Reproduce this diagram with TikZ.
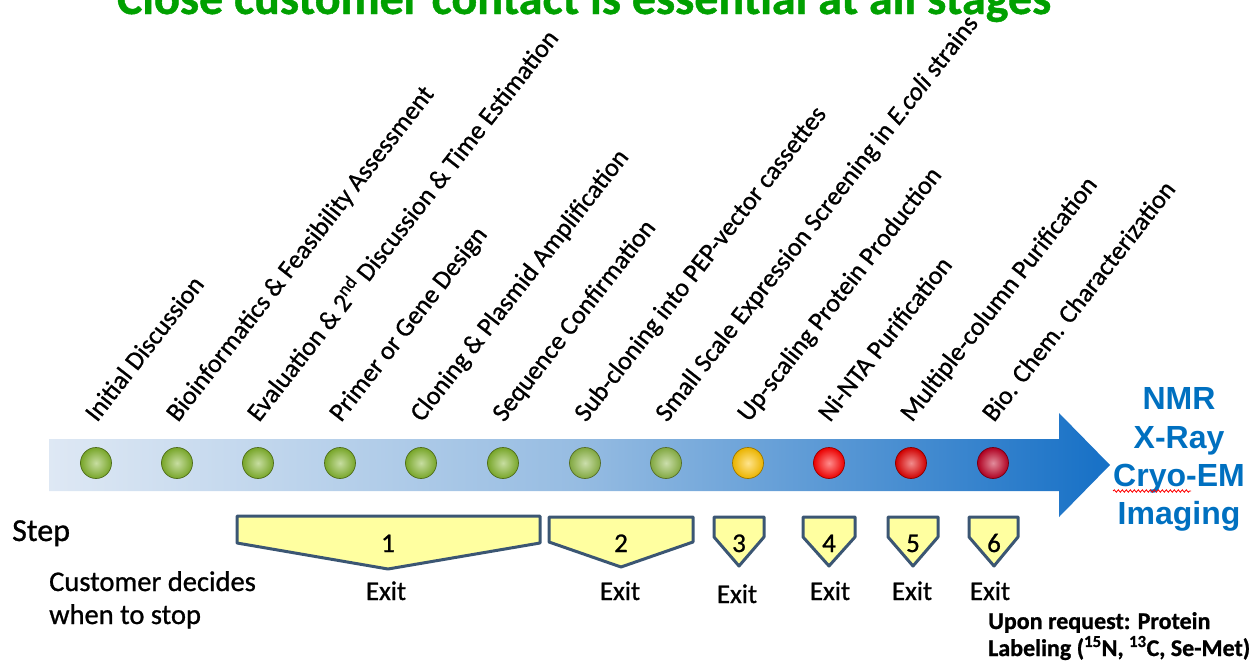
\documentclass[tikz,border=0pt]{standalone}
\usepackage{fontspec}
\setmainfont{Carlito}[FakeBold=0.9]
\newfontfamily\arialfont{Liberation Sans}
\usetikzlibrary{decorations.pathmorphing,calc}
\definecolor{titlegreen}{RGB}{0,160,0}
\definecolor{barleft}{RGB}{222,232,244}
\definecolor{barmid}{RGB}{150,188,226}
\definecolor{barright}{RGB}{22,112,198}
\definecolor{boxfill}{RGB}{255,255,160}
\definecolor{boxline}{RGB}{59,86,115}
\definecolor{techblue}{RGB}{0,112,192}
\definecolor{ballgreen}{RGB}{130,180,45}
\definecolor{ballgreenl}{RGB}{140,182,70}
\definecolor{ballyellow}{RGB}{255,195,0}
\definecolor{ballred}{RGB}{255,0,0}
\definecolor{ballredb}{RGB}{225,0,0}
\definecolor{ballcrimson}{RGB}{190,0,35}
\begin{document}
\begin{tikzpicture}[x=1pt,y=-1pt,
  dot/.style={circle, minimum size=31pt, inner sep=0pt, draw=#1!60!black, line width=0.7pt,
    shading=radial, inner color=#1!45!white, outer color=#1!92!black},
  steplabel/.style={rotate=52, anchor=base west, inner sep=0pt, font=\fontsize{26}{30}\selectfont},
  stepbox/.style={draw=boxline, fill=boxfill, line width=3pt, line join=round},
  digit/.style={anchor=base, inner sep=0pt, font=\fontsize{27}{32}\selectfont},
  exitlabel/.style={anchor=base, inner sep=0pt, font=\fontsize{27}{32}\selectfont},
  tech/.style={anchor=base, inner sep=0pt, text=techblue, font=\arialfont\bfseries\fontsize{32}{38}\selectfont},
  plain/.style={anchor=base west, inner sep=0pt},
  squiggle/.style={draw=red, line width=0.8pt, decorate, decoration={snake, segment length=4pt, amplitude=1.2pt}}]
\useasboundingbox (0,0) rectangle (1256,664);
\clip (0,0) rectangle (1256,664);
% title
\node[anchor=base, inner sep=0pt, text=titlegreen, font=\bfseries\fontsize{48}{52}\selectfont] (title) at (584,14) {Close customer contact is essential at all stages};
% arrow
\shade[left color=barleft, right color=barright, middle color=barmid]
  (49,439) -- (1059,439) -- (1059,413) -- (1110,465) -- (1059,517) -- (1059,491) -- (49,491) -- cycle;
% balls
\node[dot=ballgreen] (c1) at (96,463) {};
\node[dot=ballgreen] (c2) at (177,463) {};
\node[dot=ballgreen] (c3) at (258,463) {};
\node[dot=ballgreen] (c4) at (340,463) {};
\node[dot=ballgreen] (c5) at (421,463) {};
\node[dot=ballgreen] (c6) at (503,463) {};
\node[dot=ballgreenl] (c7) at (585,463) {};
\node[dot=ballgreenl] (c8) at (666,463) {};
\node[dot=ballyellow] (c9) at (748,463) {};
\node[dot=ballred] (c10) at (829,463) {};
\node[dot=ballredb] (c11) at (911,463) {};
\node[dot=ballcrimson] (c12) at (993,463) {};
% labels
\node[steplabel] (l1) at (97,423) {Initial Discussion};
\node[steplabel] (l2) at (178,423) {Bioinformatics \& Feasibility Assessment};
\node[steplabel] (l3) at (259,423) {Evaluation \& 2\textsuperscript{nd} Discussion \& Time Estimation};
\node[steplabel] (l4) at (341,423) {Primer or Gene Design};
\node[steplabel] (l5) at (422,423) {Cloning \& Plasmid Amplification};
\node[steplabel] (l6) at (504,423) {Sequence Confirmation};
\node[steplabel] (l7) at (586,423) {Sub-cloning into PEP-vector cassettes};
\node[steplabel] (l8) at (667,423) {Small Scale Expression Screening in \textit{E.coli} strains};
\node[steplabel] (l9) at (749,423) {Up-scaling Protein Production};
\node[steplabel] (l10) at (830,423) {Ni-NTA Purification};
\node[steplabel] (l11) at (912,423) {Multiple-column Purification};
\node[steplabel] (l12) at (994,423) {Bio. Chem. Characterization};
% techniques
\node[tech] (nmr) at (1179,409) {NMR};
\node[tech] (xray) at (1179,448) {X-Ray};
\node[tech] (cryo) at (1179,486) {Cryo-EM};
\node[tech] (imaging) at (1179,524) {Imaging};
\draw[squiggle] ($(cryo.base west)+(0,5)$) -- ($(cryo.base west)+(78,5)$);
% step boxes
\node[plain, font=\fontsize{32}{38}\selectfont] (step) at (12,541) {Step};
\draw[stepbox] (237,516) -- (540,516) -- (540,543) -- (388,569) -- (237,543) -- cycle;
\draw[stepbox] (549,517) -- (693,517) -- (693,542) -- (621,567) -- (549,542) -- cycle;
\draw[stepbox] (714,517) -- (764,517) -- (764,537) -- (739,566) -- (714,537) -- cycle;
\draw[stepbox] (803,517) -- (855,517) -- (855,537) -- (829,566) -- (803,537) -- cycle;
\draw[stepbox] (888,517) -- (938,517) -- (938,537) -- (913,566) -- (888,537) -- cycle;
\draw[stepbox] (969,517) -- (1018,517) -- (1018,537) -- (994,566) -- (969,537) -- cycle;
\node[digit] (s1) at (388,552) {1};
\node[digit] (s2) at (621,552) {2};
\node[digit] (s3) at (739,552) {3};
\node[digit] (s4) at (829,552) {4};
\node[digit] (s5) at (913,552) {5};
\node[digit] (s6) at (994,552) {6};
\node[exitlabel] (e1) at (386,600) {Exit};
\node[exitlabel] (e2) at (620,600) {Exit};
\node[exitlabel] (e3) at (737,603) {Exit};
\node[exitlabel] (e4) at (830,600) {Exit};
\node[exitlabel] (e5) at (912,600) {Exit};
\node[exitlabel] (e6) at (990,600) {Exit};
% notes
\node[plain, font=\fontsize{28.5}{33}\selectfont] (cust1) at (49,591) {Customer decides};
\node[plain, font=\fontsize{28.5}{33}\selectfont] (cust2) at (49,624) {when to stop};
\node[plain, font=\bfseries\fontsize{24}{28}\selectfont] (req1) at (988,629) {Upon request: Protein};
\node[plain, font=\bfseries\fontsize{24}{28}\selectfont] (req2) at (988,656) {Labeling (\textsuperscript{15}N, \textsuperscript{13}C, Se-Met)};
\end{tikzpicture}
\end{document}
